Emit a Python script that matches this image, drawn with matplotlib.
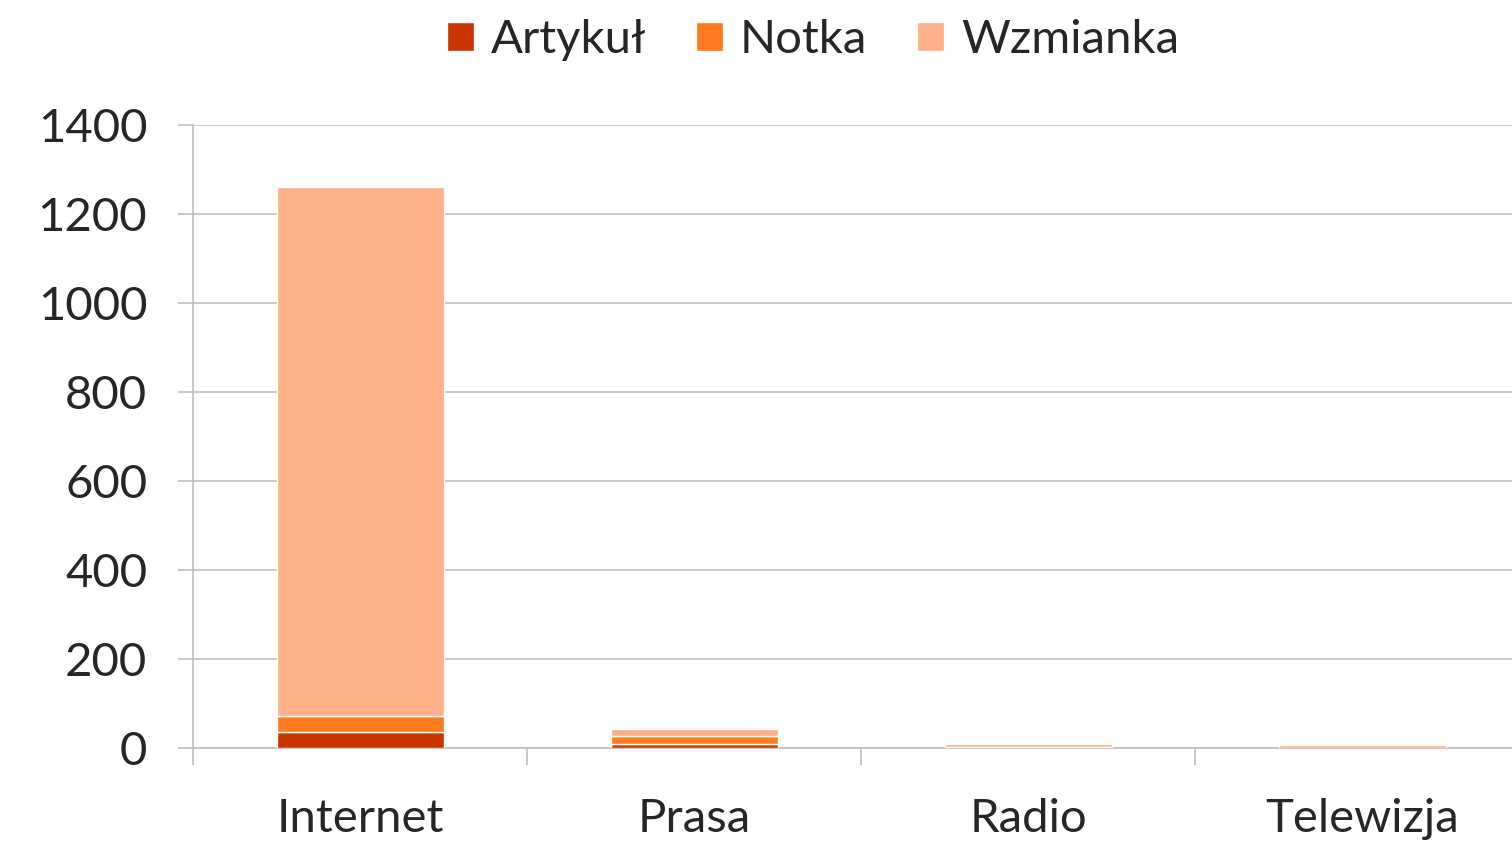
import matplotlib.pyplot as plt
import numpy as np

categories = ['Internet', 'Prasa', 'Radio', 'Telewizja']
artykul = [35, 8, 1, 0]
notka = [37, 18, 1, 1]
wzmianka = [1189, 17, 7, 5]
yticks = [0, 200, 400, 600, 800, 1000, 1200, 1400]

colors = ['#c93400', '#ff7a1c', '#ffb088']
text_color = '#262626'
grid_color = '#bfbfbf'

plt.rcParams['font.family'] = ['Lato', 'DejaVu Sans']

fig = plt.figure(figsize=(15.12, 8.41), dpi=100)
W, H = 1512, 841
ax = fig.add_axes([193 / W, 1 - 748 / H, 1336 / W, (748 - 125) / H])

x = np.arange(len(categories))
bottom = np.zeros(len(categories))
for vals, col, lab in zip([artykul, notka, wzmianka], colors, ['Artykuł', 'Notka', 'Wzmianka']):
    ax.bar(x, vals, width=0.5, bottom=bottom, color=col, edgecolor='white',
           linewidth=1.0, label=lab, zorder=3)
    bottom += np.array(vals)

ax.set_xlim(-0.5, 3.5)
ax.set_ylim(0, 1400)
ax.set_yticks(yticks)
ax.set_yticklabels([str(v) for v in yticks])
ax.set_xticks(x)
ax.set_xticklabels(categories)
ax.set_xticks(np.arange(-0.5, 4.0, 1.0), minor=True)

ax.grid(axis='y', color=grid_color, linewidth=1.2, zorder=0)
for s in ['top', 'right']:
    ax.spines[s].set_visible(False)
for s in ['left', 'bottom']:
    ax.spines[s].set_color(grid_color)
    ax.spines[s].set_linewidth(1.2)

ax.tick_params(axis='y', length=11, width=1.2, color=grid_color, labelsize=34,
               labelcolor=text_color, pad=22)
ax.tick_params(axis='x', which='major', length=0, labelsize=34,
               labelcolor=text_color, pad=36)
ax.tick_params(axis='x', which='minor', length=12, width=1.2, color=grid_color)

handles, labels = ax.get_legend_handles_labels()
fig.legend(handles, labels, loc='center', bbox_to_anchor=(813 / W, 1 - 40 / H),
           ncol=3, frameon=False, fontsize=34, labelcolor=text_color,
           handlelength=0.58, handleheight=0.58, handletextpad=0.35, columnspacing=1.05)

fig.savefig('out.png', dpi=100)
